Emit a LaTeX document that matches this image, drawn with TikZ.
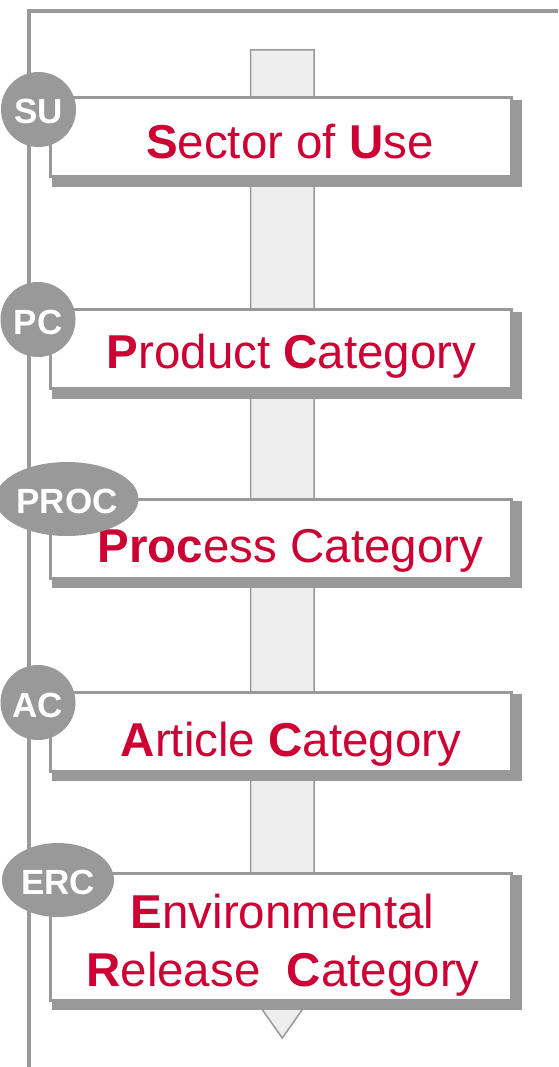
\documentclass[tikz,border=0pt]{standalone}
\usepackage{fontspec}
\setmainfont{Liberation Sans}
\usetikzlibrary{shapes.geometric,backgrounds}
\definecolor{gr}{HTML}{999999}
\definecolor{shaftfill}{HTML}{EEEEEE}
\definecolor{redtxt}{HTML}{CC0033}
\begin{document}
\begin{tikzpicture}[x=1pt,y=-1pt,
  catbox/.style={draw=gr, line width=3pt, fill=white, minimum width=461pt, minimum height=79pt, inner sep=0pt},
  cattext/.style={text=redtxt, font=\fontsize{47.5}{56}\selectfont, anchor=base, inner sep=0pt},
  badge/.style={fill=gr, text=white, font=\fontsize{35}{40}\selectfont\bfseries, inner sep=0pt, text height=29pt, text depth=0pt},
  roundbadge/.style={badge, circle, minimum size=75pt},
  ovalbadge/.style={badge, ellipse},
  shadowfill/.style={fill=gr},
  frameline/.style={draw=gr, line width=3.2pt},
  shaftstyle/.style={draw=gr, line width=1.5pt, fill=shaftfill},
]
\useasboundingbox (0,0) rectangle (558,1067);

% boxes
\node[catbox] (b1) at (280.5,137.5) {};
\node[catbox] (b2) at (280.5,349) {};
\node[catbox] (b3) at (280.5,538.5) {};
\node[catbox] (b4) at (280.5,731.5) {};
\node[catbox, minimum height=127pt] (b5) at (280.5,936.5) {};

% texts
\node[cattext] (t1) at (290,159) {\textbf{S}ector of \textbf{U}se};
\node[cattext] (t2) at (291.5,368) {\textbf{P}roduct \textbf{C}ategory};
\node[cattext] (t3) at (290.5,562) {\textbf{Proc}ess Category};
\node[cattext] (t4) at (291,756) {\textbf{A}rticle \textbf{C}ategory};
\node[cattext] (t5a) at (282.5,928) {\textbf{E}nvironmental};
\node[cattext] (t5b) at (283,986) {\textbf{R}elease\ \ \textbf{C}ategory};

% badges
\node[roundbadge] (su) at (38.5,109.5) {SU};
\node[roundbadge] (pc) at (38,319.5) {PC};
\node[ovalbadge, minimum width=132pt, minimum height=74pt] (proc) at (67,499) {PROC};
\node[roundbadge] (ac) at (38,702.5) {AC};
\node[ovalbadge, minimum width=112pt, minimum height=74pt] (erc) at (58,880) {ERC};

\begin{scope}[on background layer]
  % frame
  \draw[frameline] (558,11) -- (29,11) -- (29,1067);
  % shaft arrow
  \draw[shaftstyle] (250.5,50) -- (314,50) -- (314,993) -- (282.25,1038) -- (250.5,993) -- cycle;
  % shadows
  \foreach \b in {b1,b2,b3,b4,b5}{
    \fill[shadowfill] ([shift={(3,3.5)}]\b.north west) rectangle ([shift={(9,8.5)}]\b.south east);
  }
\end{scope}
\end{tikzpicture}
\end{document}
